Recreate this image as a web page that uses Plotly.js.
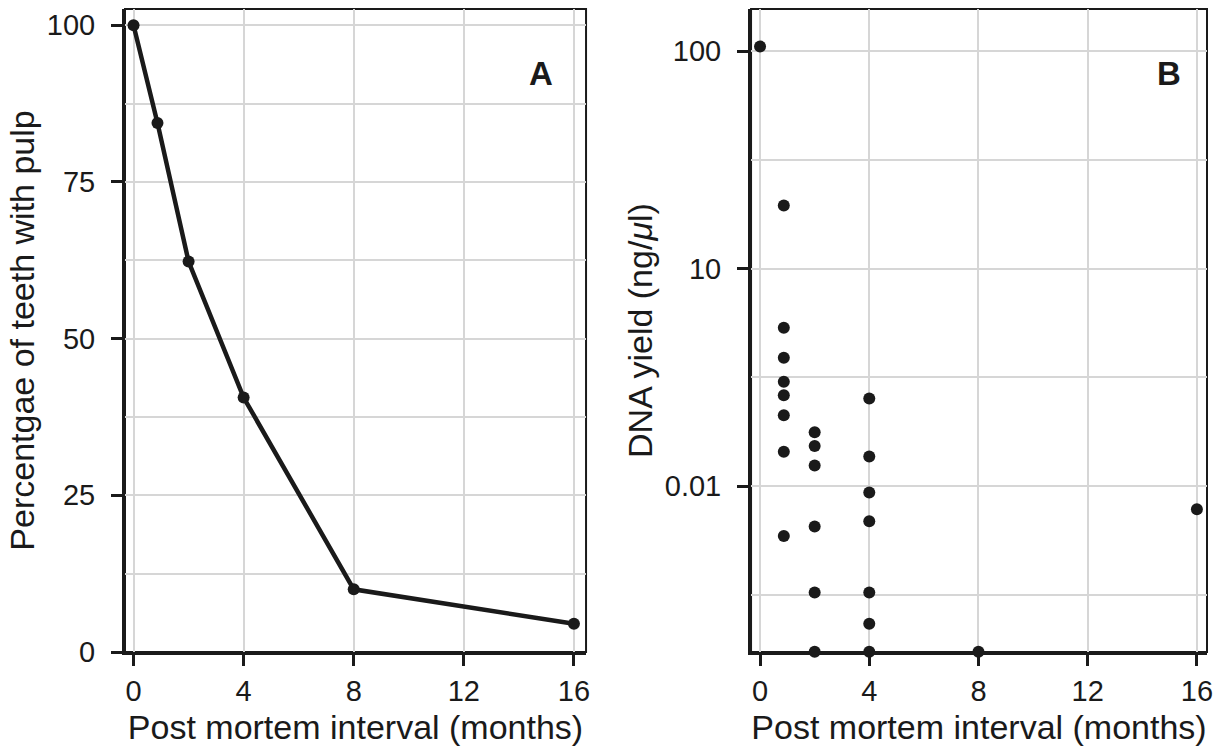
<!DOCTYPE html>
<html>
<head>
<meta charset="utf-8">
<script src="https://cdn.plot.ly/plotly-3.0.1.min.js"></script>
<style>
html, body { margin: 0; padding: 0; background: #ffffff; }
#chart { width: 1215px; height: 746px; }
</style>
</head>
<body>
<div id="chart"></div>
<script>
// Panel A: percentage of teeth with pulp
const monthsA = [0, 0.87, 2, 4, 8, 16];
const pulpPercent = [100, 84.4, 62.3, 40.6, 10.0, 4.5];

// Panel B: DNA yield per tooth
const monthsB = [0, 0.87, 0.87, 0.87, 0.87, 0.87, 0.87, 0.87, 0.87,
                 2, 2, 2, 2, 2, 2,
                 4, 4, 4, 4, 4, 4, 4,
                 8, 16];
const dnaYield = [104.8, 19.5, 5.35, 3.89, 3.02, 2.62, 2.12, 1.44, 0.59,
                  1.77, 1.53, 1.245, 0.653, 0.325, 0.1735,
                  2.53, 1.37, 0.936, 0.69, 0.325, 0.233, 0.1735,
                  0.1735, 0.784];

// Tick labels
const xTicks = [0, 4, 8, 12, 16];
const yTicksA = [0, 25, 50, 75, 100];
const yTicksB = [1, 10, 100];
const yTickTextB = ['0.01', '10', '100'];
const yMinorB = [0.3162, 3.162, 31.62];

const ink = '#1a1a1a';
const gridCol = '#d6d6d6';
const fontFam = 'Liberation Sans, Arial, Helvetica, sans-serif';

const traces = [
  {
    x: monthsA, y: pulpPercent, type: 'scatter', mode: 'lines+markers',
    xaxis: 'x', yaxis: 'y',
    line: { color: ink, width: 4.5 },
    marker: { color: ink, size: 12 },
    cliponaxis: false, showlegend: false, hoverinfo: 'x+y'
  },
  {
    x: monthsB, y: dnaYield, type: 'scatter', mode: 'markers',
    xaxis: 'x2', yaxis: 'y2',
    marker: { color: ink, size: 12 },
    cliponaxis: false, showlegend: false, hoverinfo: 'x+y'
  }
];

const axisCommon = {
  showline: true, linewidth: 3, linecolor: ink,
  ticks: 'outside', ticklen: 11, tickwidth: 3, tickcolor: ink,
  showgrid: true, gridcolor: gridCol, gridwidth: 2,
  zeroline: false, layer: 'below traces',
  tickfont: { family: fontFam, size: 29, color: ink },
  ticklabeloverflow: 'allow',
  automargin: false, fixedrange: true
};

const titleFont = { family: fontFam, size: 34, color: ink };

const layout = {
  width: 1215, height: 746,
  margin: { l: 125, r: 8, t: 9, b: 94, pad: 0 },
  paper_bgcolor: '#ffffff', plot_bgcolor: '#ffffff',
  font: { family: fontFam, color: ink },
  showlegend: false,
  xaxis: Object.assign({}, axisCommon, {
    domain: [0, 0.4261], anchor: 'y',
    range: [-0.31, 16.44],
    tickmode: 'array', tickvals: xTicks,
    title: { text: 'Post mortem interval (months)', font: titleFont, standoff: 10 }
  }),
  yaxis: Object.assign({}, axisCommon, {
    domain: [0, 1], anchor: 'x',
    range: [0, 102.6],
    tickmode: 'array', tickvals: yTicksA,
    ticklabelstandoff: 10,
    minor: { tickmode: 'linear', tick0: 12.5, dtick: 25, showgrid: true, gridcolor: gridCol, gridwidth: 2, ticks: '' },
    title: { text: 'Percentgae of teeth with pulp', font: titleFont, standoff: 2 }
  }),
  xaxis2: Object.assign({}, axisCommon, {
    domain: [0.5786, 1], anchor: 'y2',
    range: [-0.33, 16.37],
    tickmode: 'array', tickvals: xTicks,
    title: { text: 'Post mortem interval (months)', font: titleFont, standoff: 10 }
  }),
  yaxis2: Object.assign({}, axisCommon, {
    domain: [0, 1], anchor: 'x2',
    type: 'log',
    range: [-0.762, 2.193],
    tickmode: 'array', tickvals: yTicksB, ticktext: yTickTextB,
    ticklabelstandoff: 10,
    minor: { tickmode: 'array', tickvals: yMinorB, showgrid: true, gridcolor: gridCol, gridwidth: 2, ticks: '' },
    title: { text: 'DNA yield (ng/<i>μ</i>l)', font: titleFont, standoff: 2 }
  }),
  shapes: [
    { type: 'rect', xref: 'x domain', yref: 'y domain', x0: 0, x1: 1, y0: 0, y1: 1,
      line: { color: ink, width: 2 }, fillcolor: 'rgba(0,0,0,0)', layer: 'below' },
    { type: 'rect', xref: 'x2 domain', yref: 'y2 domain', x0: 0, x1: 1, y0: 0, y1: 1,
      line: { color: ink, width: 2 }, fillcolor: 'rgba(0,0,0,0)', layer: 'below' }
  ],
  annotations: [
    { text: '<b>A</b>', xref: 'x domain', yref: 'y domain', x: 0.902, y: 0.900,
      xanchor: 'center', yanchor: 'middle', showarrow: false,
      font: { family: fontFam, size: 33, color: ink } },
    { text: '<b>B</b>', xref: 'x2 domain', yref: 'y2 domain', x: 0.917, y: 0.900,
      xanchor: 'center', yanchor: 'middle', showarrow: false,
      font: { family: fontFam, size: 33, color: ink } }
  ]
};

Plotly.newPlot('chart', traces, layout, { staticPlot: true, displayModeBar: false });
</script>
</body>
</html>
